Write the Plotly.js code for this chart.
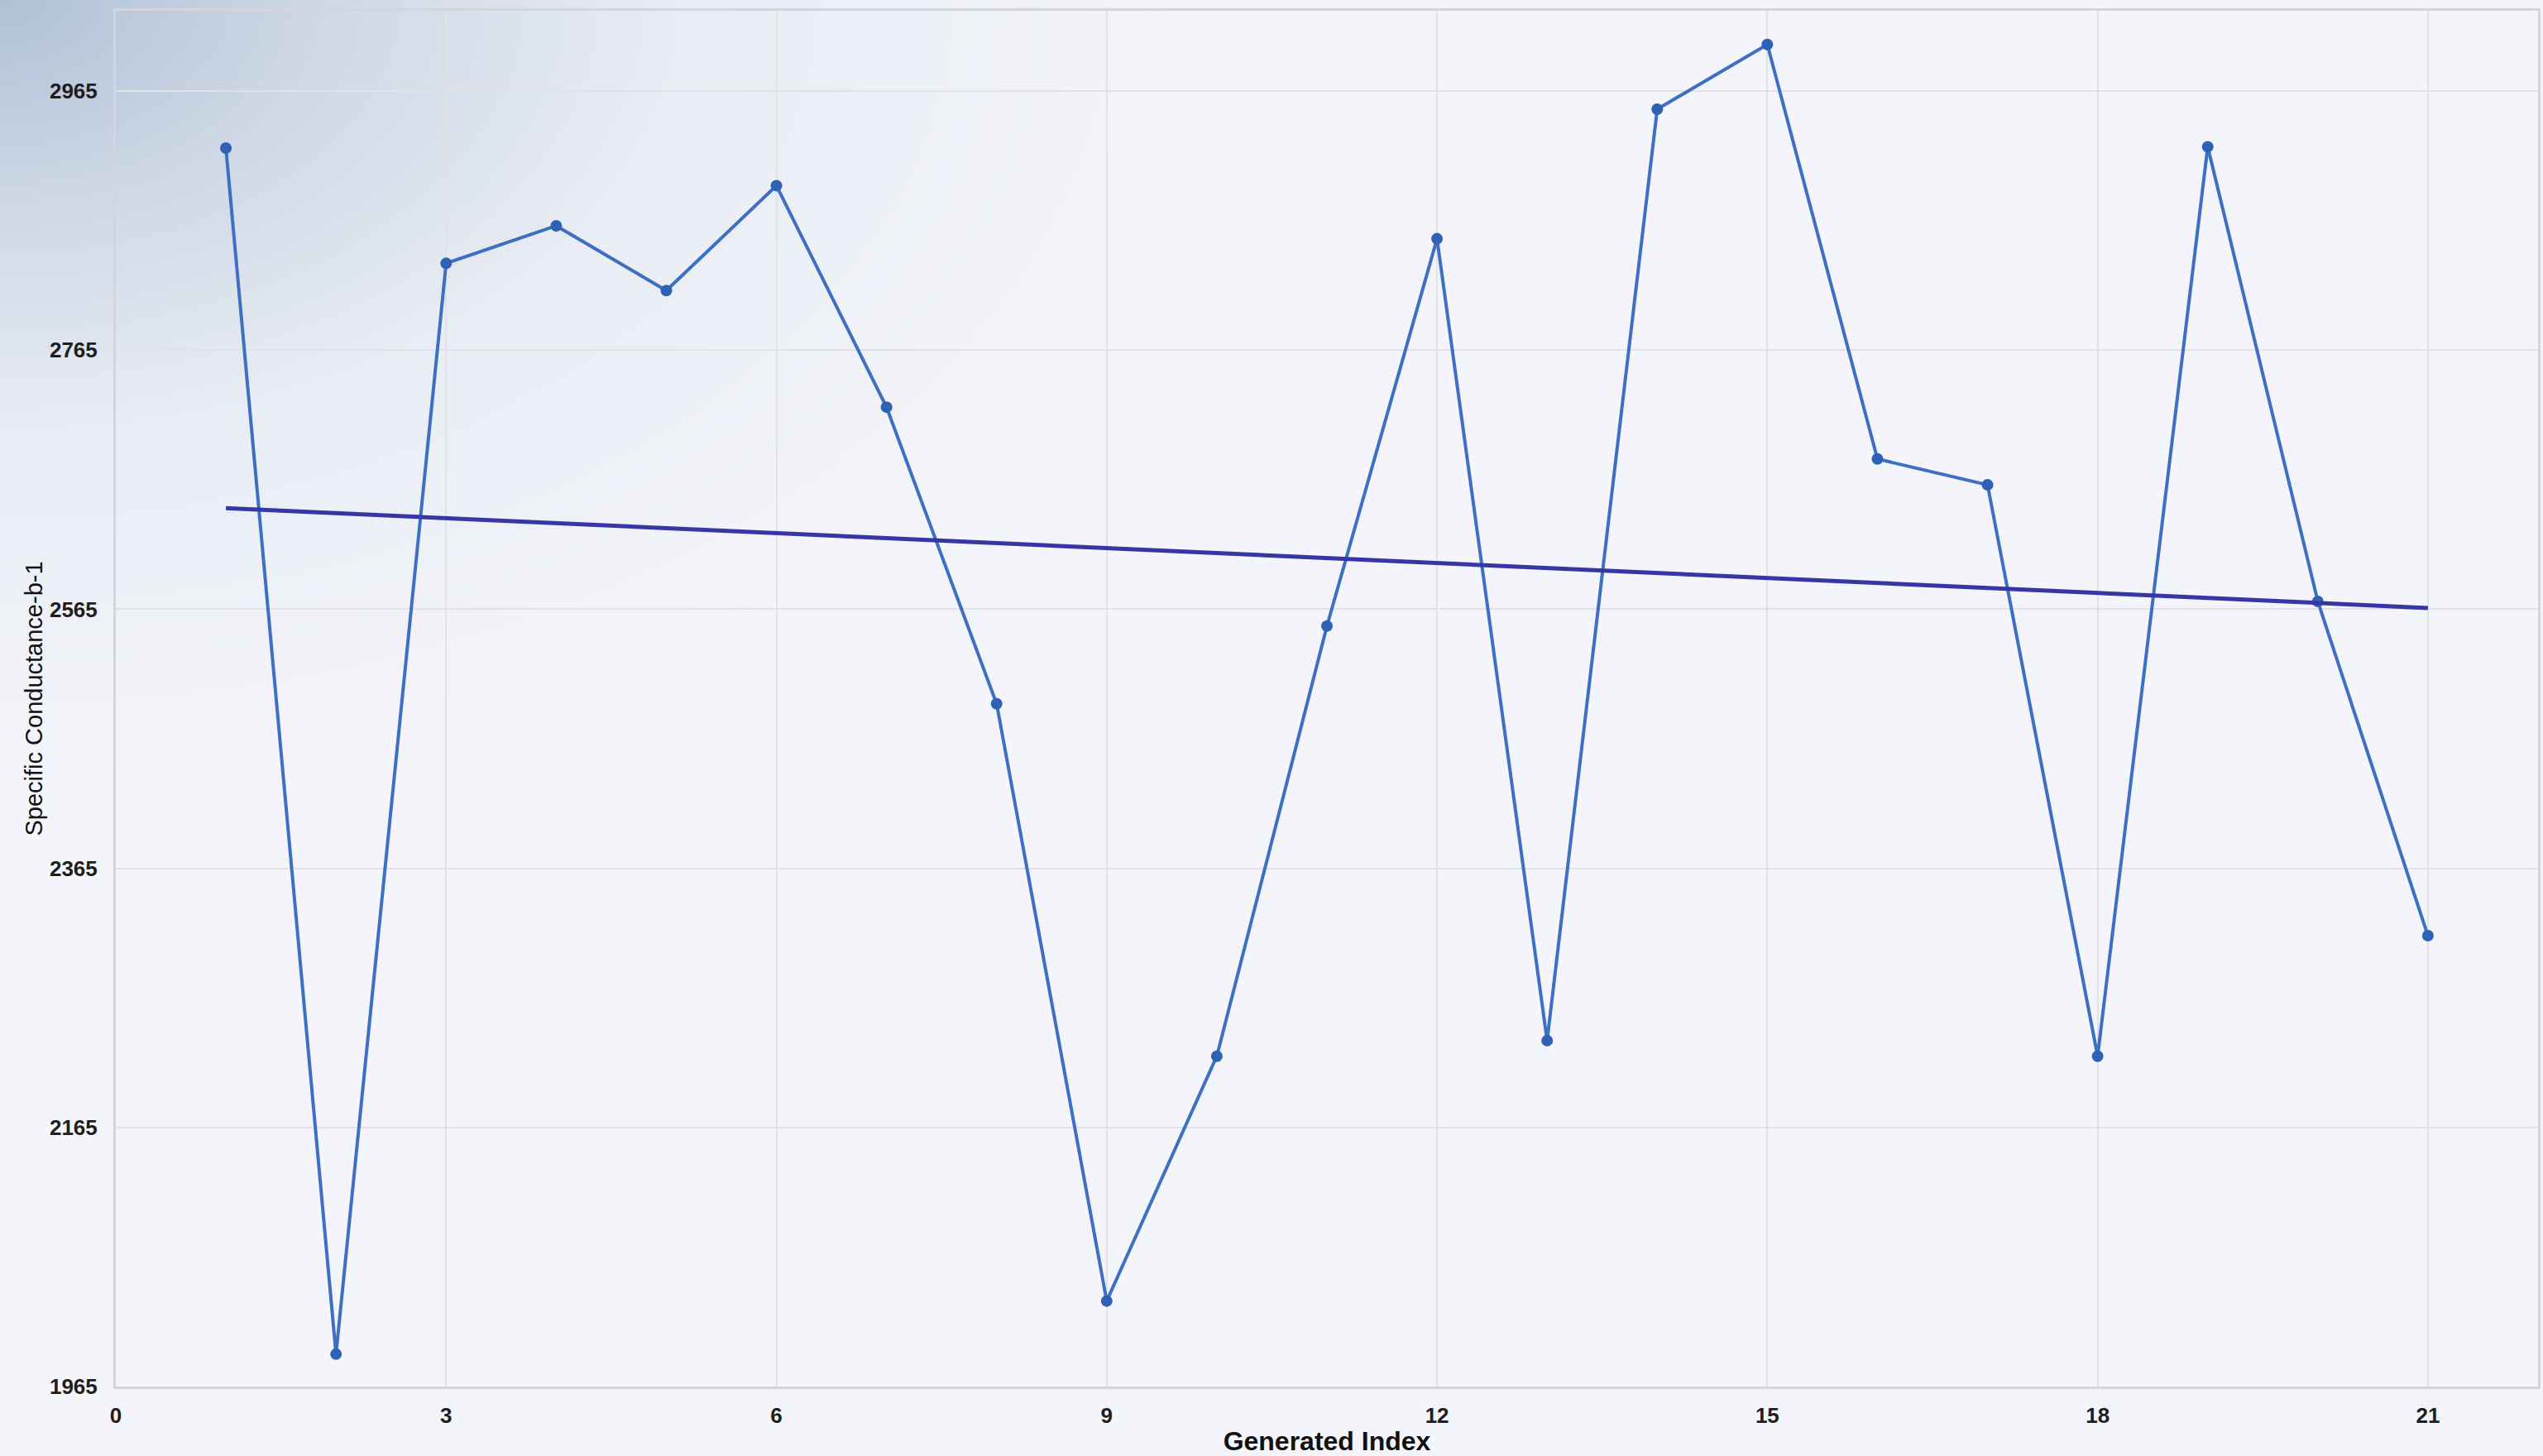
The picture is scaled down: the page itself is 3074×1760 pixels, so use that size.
<!DOCTYPE html>
<html>
<head>
<meta charset="utf-8">
<script src="https://cdn.plot.ly/plotly-3.0.1.min.js"></script>
<style>
  html, body { margin: 0; padding: 0; }
  body {
    width: 3074px; height: 1760px; overflow: hidden;
    background:
      radial-gradient(ellipse 1500px 950px at 0px 0px, rgba(172,190,212,0.95) 0%, rgba(192,205,222,0.75) 25%, rgba(218,226,236,0.45) 55%, rgba(244,245,250,0) 100%),
      #f4f5fa;
  }
  #chart { width: 3074px; height: 1760px; }
</style>
</head>
<body>
<div id="chart"></div>
<script>
// Data
const indexValues = [1, 2, 3, 4, 5, 6, 7, 8, 9, 10, 11, 12, 13, 14, 15, 16, 17, 18, 19, 20, 21];
const conductanceValues = [2921, 1990, 2832, 2861, 2811, 2892, 2721, 2492, 2031, 2220, 2552, 2851, 2232, 2951, 3001, 2681, 2661, 2220, 2922, 2571, 2313];
const trendX = [1, 21];
const trendY = [2643, 2566];
const yTickValues = [1965, 2165, 2365, 2565, 2765, 2965];
const yTickLabels = ['1965', '2165', '2365', '2565', '2765', '2965'];
const xTickValues = [0, 3, 6, 9, 12, 15, 18, 21];
const xTickLabels = ['0', '3', '6', '9', '12', '15', '18', '21'];

const tickFont = { family: '"Liberation Sans Narrow", "Arial Narrow", "Liberation Sans", sans-serif', size: 26, color: '#1e1e1e', weight: 'bold' };

const traces = [
  {
    x: indexValues,
    y: conductanceValues,
    type: 'scatter',
    mode: 'lines+markers',
    line: { color: '#3d6fc2', width: 4 },
    marker: { color: '#2f62b4', size: 14 },
    showlegend: false,
    hoverinfo: 'x+y'
  },
  {
    x: trendX,
    y: trendY,
    type: 'scatter',
    mode: 'lines',
    line: { color: '#3636a6', width: 5 },
    showlegend: false
  }
];

const layout = {
  width: 3074,
  height: 1760,
  paper_bgcolor: 'rgba(0,0,0,0)',
  plot_bgcolor: 'rgba(0,0,0,0)',
  margin: { l: 140, r: 6, t: 13, b: 84, pad: 0 },
  showlegend: false,
  xaxis: {
    range: [0, 22],
    tickvals: xTickValues,
    ticktext: xTickLabels,
    tickfont: tickFont,
    ticks: '',
    ticklabelstandoff: 10,
    showgrid: true,
    gridcolor: '#e1e1e8',
    gridwidth: 2,
    zeroline: false,
    showline: true,
    linecolor: '#d4d4dc',
    linewidth: 3,
    mirror: true,
    automargin: false,
    title: {
      text: 'Generated Index',
      font: { family: '"Liberation Sans Narrow", "Arial Narrow", "Liberation Sans", sans-serif', size: 32, color: '#111', weight: 'bold' },
      standoff: 6
    }
  },
  yaxis: {
    range: [1965, 3027],
    tickvals: yTickValues,
    ticktext: yTickLabels,
    tickfont: tickFont,
    ticks: '',
    ticklabelstandoff: 14,
    showgrid: true,
    gridcolor: '#e1e1e8',
    gridwidth: 2,
    zeroline: false,
    showline: true,
    linecolor: '#d4d4dc',
    linewidth: 3,
    mirror: true,
    automargin: false,
    title: {
      text: 'Specific Conductance-b-1',
      font: { family: '"Liberation Sans", Arial, sans-serif', size: 29, color: '#111', weight: 500 },
      standoff: 0
    }
  }
};

Plotly.newPlot('chart', traces, layout, { displayModeBar: false, staticPlot: true });
</script>
</body>
</html>
